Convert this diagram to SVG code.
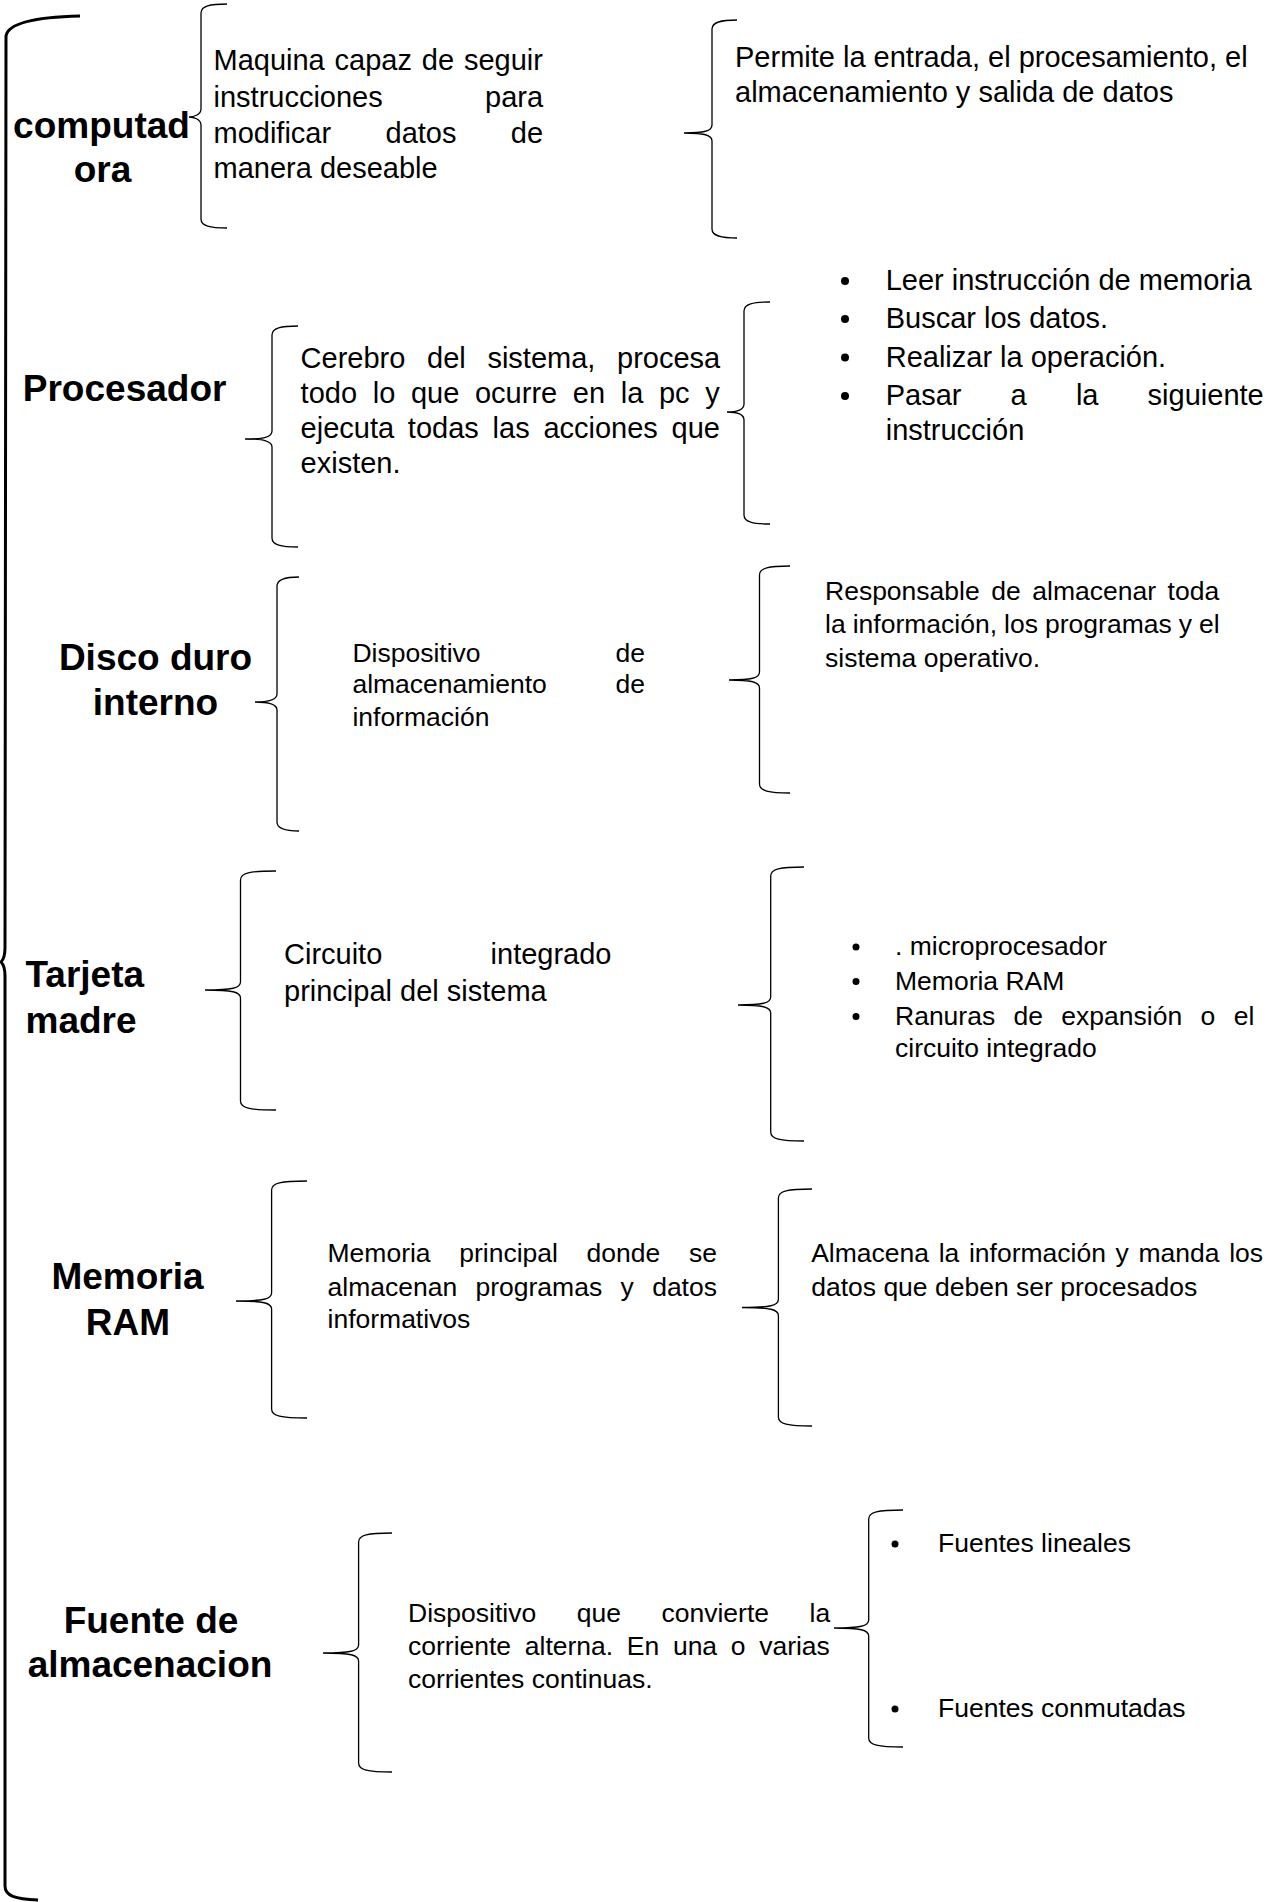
<svg xmlns="http://www.w3.org/2000/svg" width="1285" height="1902" viewBox="0 0 1285 1902">
<style>
text{font-family:"Liberation Sans",Arial,sans-serif;fill:#000}
.lbl{font-size:37px;font-weight:bold}
.t29{font-size:29px}
.t26{font-size:26.5px}
.br{fill:none;stroke:#000;stroke-width:1.3}
.big{fill:none;stroke:#000;stroke-width:3}
</style>
<rect width="1285" height="1902" fill="#fff"/>
<g id="connectors">
<path class="big" d="M80,16 C40,17 8,22 6,36 L5,948 C5,956 3,960 1,962 C3,964 5,968 5,976 L5,1886 C5,1896 15,1899 38,1900"/>
<path class="br" d="M227,4 C210,4 201,6 201,13 L201,109 C201,115 193,117 189,117 C193,117 201,119 201,125 L201,219 C201,226 210,228 227,228"/>
<path class="br" d="M737,20 C721,20 712,22 712,29 L712,125 C712,131 704,133 684,133 C704,133 712,135 712,141 L712,229 C712,236 721,238 737,238"/>
<path class="br" d="M298,326 C281,326 272,328 272,335 L272,431 C272,437 264,439 245,439 C264,439 272,441 272,447 L272,538 C272,545 281,547 298,547"/>
<path class="br" d="M770,302 C753,302 744,304 744,311 L744,404 C744,410 736,412 727,412 C736,412 744,414 744,420 L744,515 C744,522 753,524 770,524"/>
<path class="br" d="M299,577 C286,577 277,579 277,586 L277,694 C277,700 269,702 255,702 C269,702 277,704 277,710 L277,822 C277,829 286,831 299,831"/>
<path class="br" d="M790,566 C768.5,566 759.5,568 759.5,575 L759.5,672 C759.5,678 751.5,680 729,680 C751.5,680 759.5,682 759.5,688 L759.5,784 C759.5,791 768.5,793 790,793"/>
<path class="br" d="M276,871 C249.5,871 240.5,873 240.5,880 L240.5,982 C240.5,988 232.5,990 205,990 C232.5,990 240.5,992 240.5,998 L240.5,1101 C240.5,1108 249.5,1110 276,1110"/>
<path class="br" d="M804,867 C779.7,867 770.7,869 770.7,876 L770.7,997 C770.7,1003 762.7,1005 738,1005 C762.7,1005 770.7,1007 770.7,1013 L770.7,1132 C770.7,1139 779.7,1141 804,1141"/>
<path class="br" d="M307,1181 C280.6,1181 271.6,1183 271.6,1190 L271.6,1293 C271.6,1299 263.6,1301 236,1301 C263.6,1301 271.6,1303 271.6,1309 L271.6,1409 C271.6,1416 280.6,1418 307,1418"/>
<path class="br" d="M812,1189 C787.4,1189 778.4,1191 778.4,1198 L778.4,1299.5 C778.4,1305.5 770.4,1307.5 742,1307.5 C770.4,1307.5 778.4,1309.5 778.4,1315.5 L778.4,1417 C778.4,1424 787.4,1426 812,1426"/>
<path class="br" d="M392,1533 C367.6,1533 358.6,1535 358.6,1542 L358.6,1645 C358.6,1651 350.6,1653 323,1653 C350.6,1653 358.6,1655 358.6,1661 L358.6,1763 C358.6,1770 367.6,1772 392,1772"/>
<path class="br" d="M903,1510 C877.7,1510 868.7,1512 868.7,1519 L868.7,1620 C868.7,1626 860.7,1628 834,1628 C860.7,1628 868.7,1630 868.7,1636 L868.7,1738 C868.7,1745 877.7,1747 903,1747"/>
</g>

<g id="computadora">
<text class="lbl" text-anchor="middle" x="101.5" y="138">computad</text>
<text class="lbl" text-anchor="middle" x="102.5" y="182">ora</text>
</g>
<g id="computadora-def">
<text class="t29" x="213.5" y="70" word-spacing="1.8">Maquina capaz de seguir</text>
<text class="t29" x="213.5" y="106.5" word-spacing="94.2">instrucciones para</text>
<text class="t29" x="213.5" y="142.5" word-spacing="46.3">modificar datos de</text>
<text class="t29" x="213.5" y="178">manera deseable</text>
</g>
<g id="computadora-func">
<text class="t29" x="735" y="67">Permite la entrada, el procesamiento, el</text>
<text class="t29" x="735" y="102">almacenamiento y salida de datos</text>
</g>

<g id="procesador">
<text class="lbl" x="22.8" y="401">Procesador</text>
</g>
<g id="procesador-def">
<text class="t29" x="300.6" y="368" word-spacing="13.6">Cerebro del sistema, procesa</text>
<text class="t29" x="300.6" y="403" word-spacing="7.6">todo lo que ocurre en la pc y</text>
<text class="t29" x="300.6" y="438" word-spacing="5.7">ejecuta todas las acciones que</text>
<text class="t29" x="300.6" y="473">existen.</text>
</g>
<g id="procesador-pasos">
<circle cx="845" cy="281" r="4"/>
<circle cx="845" cy="319" r="4"/>
<circle cx="845" cy="357.5" r="4"/>
<circle cx="845" cy="396" r="4"/>
<text class="t29" x="885.7" y="290">Leer instrucción de memoria</text>
<text class="t29" x="885.7" y="328">Buscar los datos.</text>
<text class="t29" x="885.7" y="366.5">Realizar la operación.</text>
<text class="t29" x="885.7" y="405" word-spacing="41.1">Pasar a la siguiente</text>
<text class="t29" x="885.7" y="440">instrucción</text>
</g>

<g id="disco">
<text class="lbl" text-anchor="middle" x="155.5" y="670">Disco duro</text>
<text class="lbl" text-anchor="middle" x="155.5" y="715">interno</text>
</g>
<g id="disco-def">
<text class="t26" x="352.4" y="661.5" word-spacing="127.6">Dispositivo de</text>
<text class="t26" x="352.4" y="693" word-spacing="61.3">almacenamiento de</text>
<text class="t26" x="352.4" y="725.5">información</text>
</g>
<g id="disco-func">
<text class="t26" x="825" y="600" word-spacing="4.2">Responsable de almacenar toda</text>
<text class="t26" x="825" y="633" word-spacing="-0.3">la información, los programas y el</text>
<text class="t26" x="825" y="666.5">sistema operativo.</text>
</g>

<g id="tarjeta">
<text class="lbl" x="25.5" y="987">Tarjeta</text>
<text class="lbl" x="25.5" y="1033">madre</text>
</g>
<g id="tarjeta-def">
<text class="t29" x="284" y="964" word-spacing="100.2">Circuito integrado</text>
<text class="t29" x="284" y="1000.5">principal del sistema</text>
</g>
<g id="tarjeta-partes">
<circle cx="856" cy="947" r="3.5"/>
<circle cx="856" cy="981.5" r="3.5"/>
<circle cx="856" cy="1016.5" r="3.5"/>
<text class="t26" x="895" y="955">. microprocesador</text>
<text class="t26" x="895" y="989.5">Memoria RAM</text>
<text class="t26" x="895" y="1024.5" word-spacing="11">Ranuras de expansión o el</text>
<text class="t26" x="895" y="1057">circuito integrado</text>
</g>

<g id="ram">
<text class="lbl" text-anchor="middle" x="127.5" y="1289">Memoria</text>
<text class="lbl" text-anchor="middle" x="128" y="1335">RAM</text>
</g>
<g id="ram-def">
<text class="t26" x="327.5" y="1262" word-spacing="21.3">Memoria principal donde se</text>
<text class="t26" x="327.5" y="1295.5" word-spacing="11">almacenan programas y datos</text>
<text class="t26" x="327.5" y="1328">informativos</text>
</g>
<g id="ram-func">
<text class="t26" x="811.2" y="1262" word-spacing="2.3">Almacena la información y manda los</text>
<text class="t26" x="811.2" y="1296">datos que deben ser procesados</text>
</g>

<g id="fuente">
<text class="lbl" text-anchor="middle" x="151" y="1633">Fuente de</text>
<text class="lbl" text-anchor="middle" x="150" y="1677">almacenacion</text>
</g>
<g id="fuente-def">
<text class="t26" x="408" y="1622" word-spacing="33.2">Dispositivo que convierte la</text>
<text class="t26" x="408" y="1655" word-spacing="6.3">corriente alterna. En una o varias</text>
<text class="t26" x="408" y="1688">corrientes continuas.</text>
</g>
<g id="fuente-tipos">
<circle cx="895" cy="1544" r="3.5"/>
<circle cx="895" cy="1709" r="3.5"/>
<text class="t26" x="938" y="1552">Fuentes lineales</text>
<text class="t26" x="938" y="1717">Fuentes conmutadas</text>
</g>
</svg>
